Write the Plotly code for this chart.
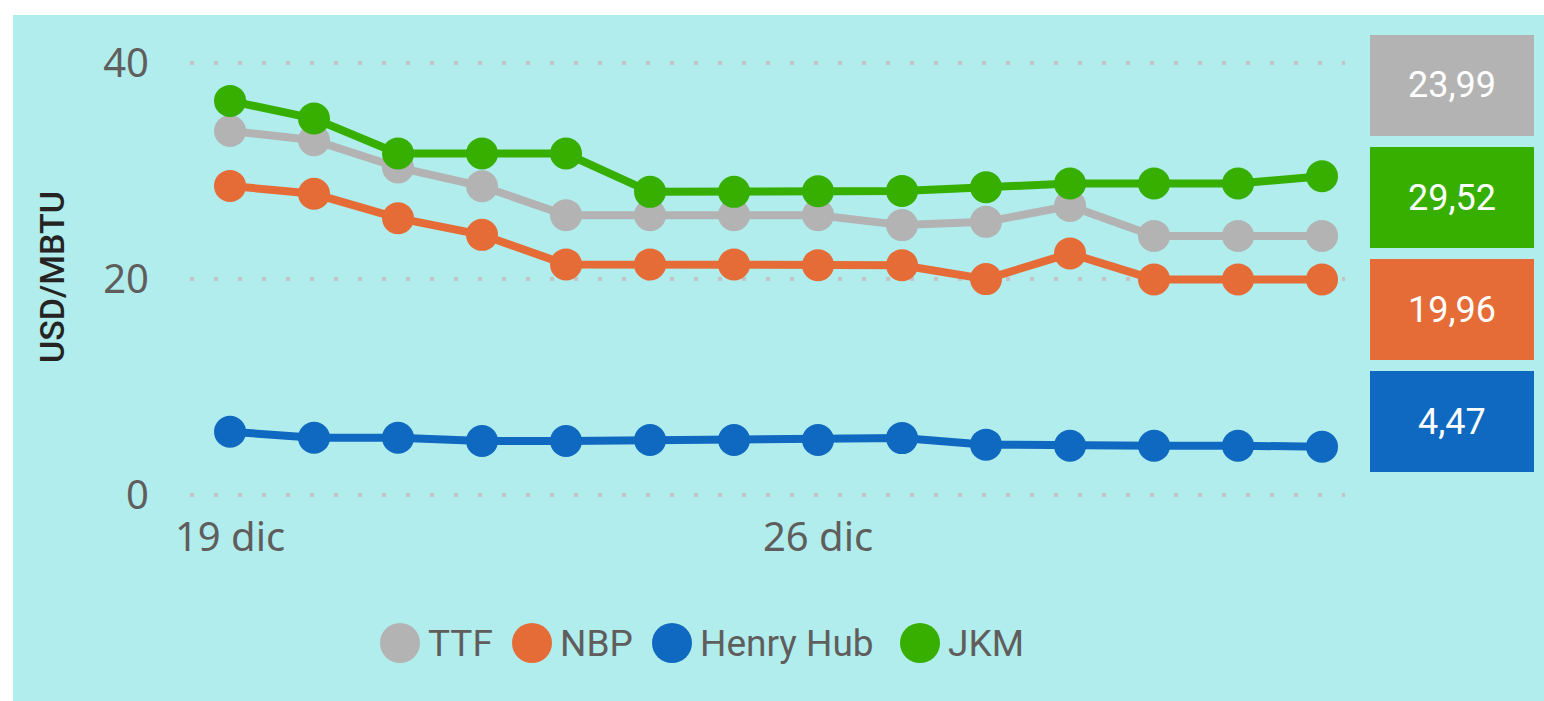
import plotly.graph_objects as go

# ---------------- data ----------------
dates = ["2022-12-19", "2022-12-20", "2022-12-21", "2022-12-22", "2022-12-23",
         "2022-12-24", "2022-12-25", "2022-12-26", "2022-12-27", "2022-12-28",
         "2022-12-29", "2022-12-30", "2022-12-31", "2023-01-01"]

series_names = ["TTF", "NBP", "Henry Hub", "JKM"]
ttf = [33.71, 32.85, 30.33, 28.59, 25.91, 25.91, 25.91, 25.91, 24.99, 25.29, 26.77, 23.99, 23.99, 23.99]
nbp = [28.62, 27.89, 25.63, 24.09, 21.35, 21.35, 21.35, 21.28, 21.28, 19.99, 22.37, 19.96, 19.96, 19.96]
henry_hub = [5.86, 5.30, 5.30, 5.00, 5.00, 5.09, 5.09, 5.09, 5.27, 4.66, 4.56, 4.56, 4.56, 4.47]
jkm = [36.49, 34.86, 31.62, 31.62, 31.62, 28.07, 28.07, 28.13, 28.16, 28.50, 28.84, 28.84, 28.84, 29.52]

x_tick_vals = ["2022-12-19", "2022-12-26"]
x_tick_text = ["19 dic", "26 dic"]
y_tick_vals = [0, 20, 40]
y_title = "USD/MBTU"

card_order = ["TTF", "JKM", "NBP", "Henry Hub"]

# ---------------- style ----------------
colors = {"TTF": "#B3B3B3", "NBP": "#E66C37", "Henry Hub": "#1069C0", "JKM": "#36AF00"}
values = {"TTF": ttf, "NBP": nbp, "Henry Hub": henry_hub, "JKM": jkm}
BG = "#B1EDED"
TICK_COLOR = "#605E5C"

W, H = 1544, 701
L, R, T, B = 190, 199, 52, 195
PW, PH = W - L - R, H - T - B


def px2x(px):
    return (px - L) / PW


def py2y(py):
    return (H - B - py) / PH


fig = go.Figure()
for name in series_names:
    fig.add_trace(go.Scatter(
        x=dates, y=values[name], name=name, mode="lines+markers",
        line=dict(color=colors[name], width=8),
        marker=dict(color=colors[name], size=32),
        cliponaxis=False, showlegend=False,
    ))

shapes = []
annotations = []

# white border strips (top and left)
shapes.append(dict(type="rect", xref="paper", yref="paper", x0=px2x(0), x1=px2x(W),
                   y0=py2y(0), y1=py2y(15), fillcolor="white", line=dict(width=0), layer="above"))
shapes.append(dict(type="rect", xref="paper", yref="paper", x0=px2x(0), x1=px2x(13),
                   y0=py2y(0), y1=py2y(H), fillcolor="white", line=dict(width=0), layer="above"))

# value cards on the right
card_tops = [35, 147, 259, 371]
card_h = 101
for name, top in zip(card_order, card_tops):
    shapes.append(dict(type="rect", xref="paper", yref="paper",
                       x0=px2x(1370), x1=px2x(1534), y0=py2y(top + card_h), y1=py2y(top),
                       fillcolor=colors[name], line=dict(width=0), layer="above"))
    last = values[name][-1]
    annotations.append(dict(xref="paper", yref="paper", x=px2x(1452), y=py2y(top + card_h / 2),
                            text=f"{last:.2f}".replace(".", ","), showarrow=False,
                            xanchor="center", yanchor="middle",
                            font=dict(family="Roboto", size=36, color="white")))

# manual legend
legend_circle_x = [400, 532, 672, 920]
legend_y = 643
for name, cx in zip(series_names, legend_circle_x):
    shapes.append(dict(type="circle", xref="paper", yref="paper",
                       xsizemode="pixel", ysizemode="pixel",
                       xanchor=px2x(cx), yanchor=py2y(legend_y),
                       x0=-20, x1=20, y0=-20, y1=20,
                       fillcolor=colors[name], line=dict(width=0)))
    annotations.append(dict(xref="paper", yref="paper", x=px2x(cx + 26), y=py2y(legend_y),
                            text=name, showarrow=False, xanchor="left", yanchor="middle",
                            font=dict(family="Roboto", size=37, color=TICK_COLOR)))

# y axis title
annotations.append(dict(xref="paper", yref="paper", x=px2x(52), y=py2y(277),
                        text=y_title, showarrow=False, textangle=-90,
                        xanchor="center", yanchor="middle",
                        font=dict(family="Roboto", size=34, color="#252423", weight=500)))

fig.update_layout(
    width=W, height=H,
    margin=dict(l=L, r=R, t=T, b=B, pad=0),
    paper_bgcolor=BG, plot_bgcolor=BG,
    showlegend=False,
    shapes=shapes, annotations=annotations,
    xaxis=dict(
        type="date",
        range=["2022-12-18 12:34", "2023-01-01 06:34"],
        tickvals=x_tick_vals, ticktext=x_tick_text,
        showgrid=False, zeroline=False, showline=False, ticks="",
        tickfont=dict(family="Noto Sans", size=40, color=TICK_COLOR),
        ticklabelstandoff=4,
    ),
    yaxis=dict(
        range=[-1.02, 41.02],
        tickvals=y_tick_vals,
        showgrid=True, gridcolor="#C3C3C3", gridwidth=4, griddash="4px,20px",
        zeroline=False, showline=False, ticks="",
        tickfont=dict(family="Noto Sans", size=40, color=TICK_COLOR),
        ticklabelstandoff=40,
    ),
)

fig.write_html("out.html", config={"displayModeBar": False},
               post_script="document.body.style.margin='0px';document.body.style.overflow='hidden';")
